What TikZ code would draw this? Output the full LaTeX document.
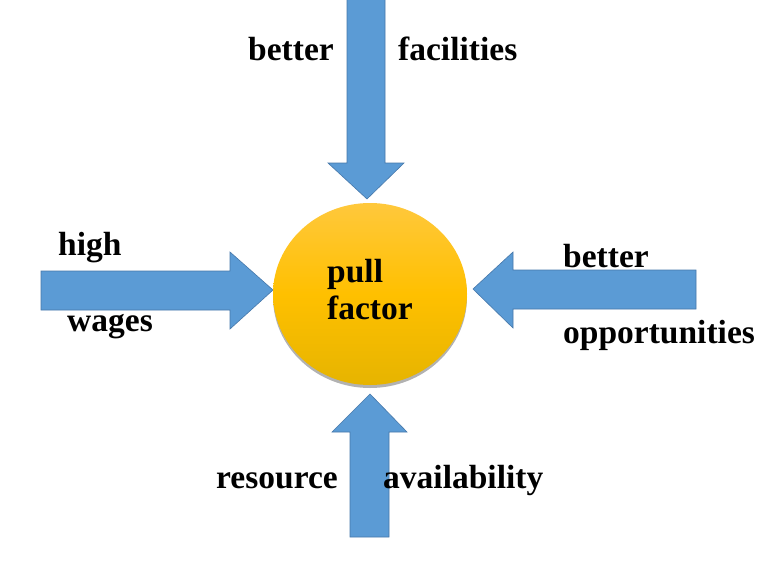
\documentclass[tikz,border=0pt]{standalone}
\usepackage{fontspec}
\setmainfont{Liberation Serif}
\usetikzlibrary{shapes.geometric,shadows}
\definecolor{arrowblue}{RGB}{91,155,213}
\definecolor{arrowedge}{RGB}{70,120,170}
\definecolor{suntop}{RGB}{255,200,60}
\definecolor{sunmid}{RGB}{255,192,0}
\definecolor{sunbot}{RGB}{230,180,0}
\tikzset{
  blockarrow/.style={fill=arrowblue, draw=arrowedge, line width=0.6pt, line join=miter},
  factorword/.style={anchor=base west, inner sep=0pt,
    font=\fontsize{33.5}{36}\selectfont\bfseries},
  pullball/.style={ellipse, minimum width=194pt, minimum height=182pt,
    top color=suntop, bottom color=sunbot, middle color=sunmid,
    drop shadow={shadow xshift=0pt, shadow yshift=-3pt, opacity=0.3, fill=black}}
}
\begin{document}
\begin{tikzpicture}[x=1pt,y=-1pt]
  \useasboundingbox[fill=white] (0,0) rectangle (783,570);
  % the four arrows
  \filldraw[blockarrow] (347,-3) -- (347,163) -- (328,163) -- (367,199)
    -- (404,163) -- (385,163) -- (385,-3) -- cycle;
  \filldraw[blockarrow] (41,271) -- (230,271) -- (230,252) -- (273,290)
    -- (230,329) -- (230,310) -- (41,310) -- cycle;
  \filldraw[blockarrow] (696,270) -- (513,270) -- (513,252) -- (473,289)
    -- (513,328) -- (513,309) -- (696,309) -- cycle;
  \filldraw[blockarrow] (350,537) -- (350,432) -- (332,432) -- (370,394)
    -- (407,432) -- (389,432) -- (389,537) -- cycle;
  % centre
  \node[pullball] (pull) at (370,294) {};
  \node[factorword] (pullword) at (327,282) {pull};
  \node[factorword] (factorword) at (327,319) {factor};
  % labels
  \node[factorword] (bettertop) at (248,60) {better};
  \node[factorword] (facilities) at (398,60) {facilities};
  \node[factorword] (high) at (58,255) {high};
  \node[factorword] (wages) at (67,331) {wages};
  \node[factorword] (betterright) at (563,267) {better};
  \node[factorword] (opportunities) at (563,343) {opportunities};
  \node[factorword] (resource) at (216,488) {resource};
  \node[factorword] (availability) at (383,488) {availability};
\end{tikzpicture}
\end{document}
